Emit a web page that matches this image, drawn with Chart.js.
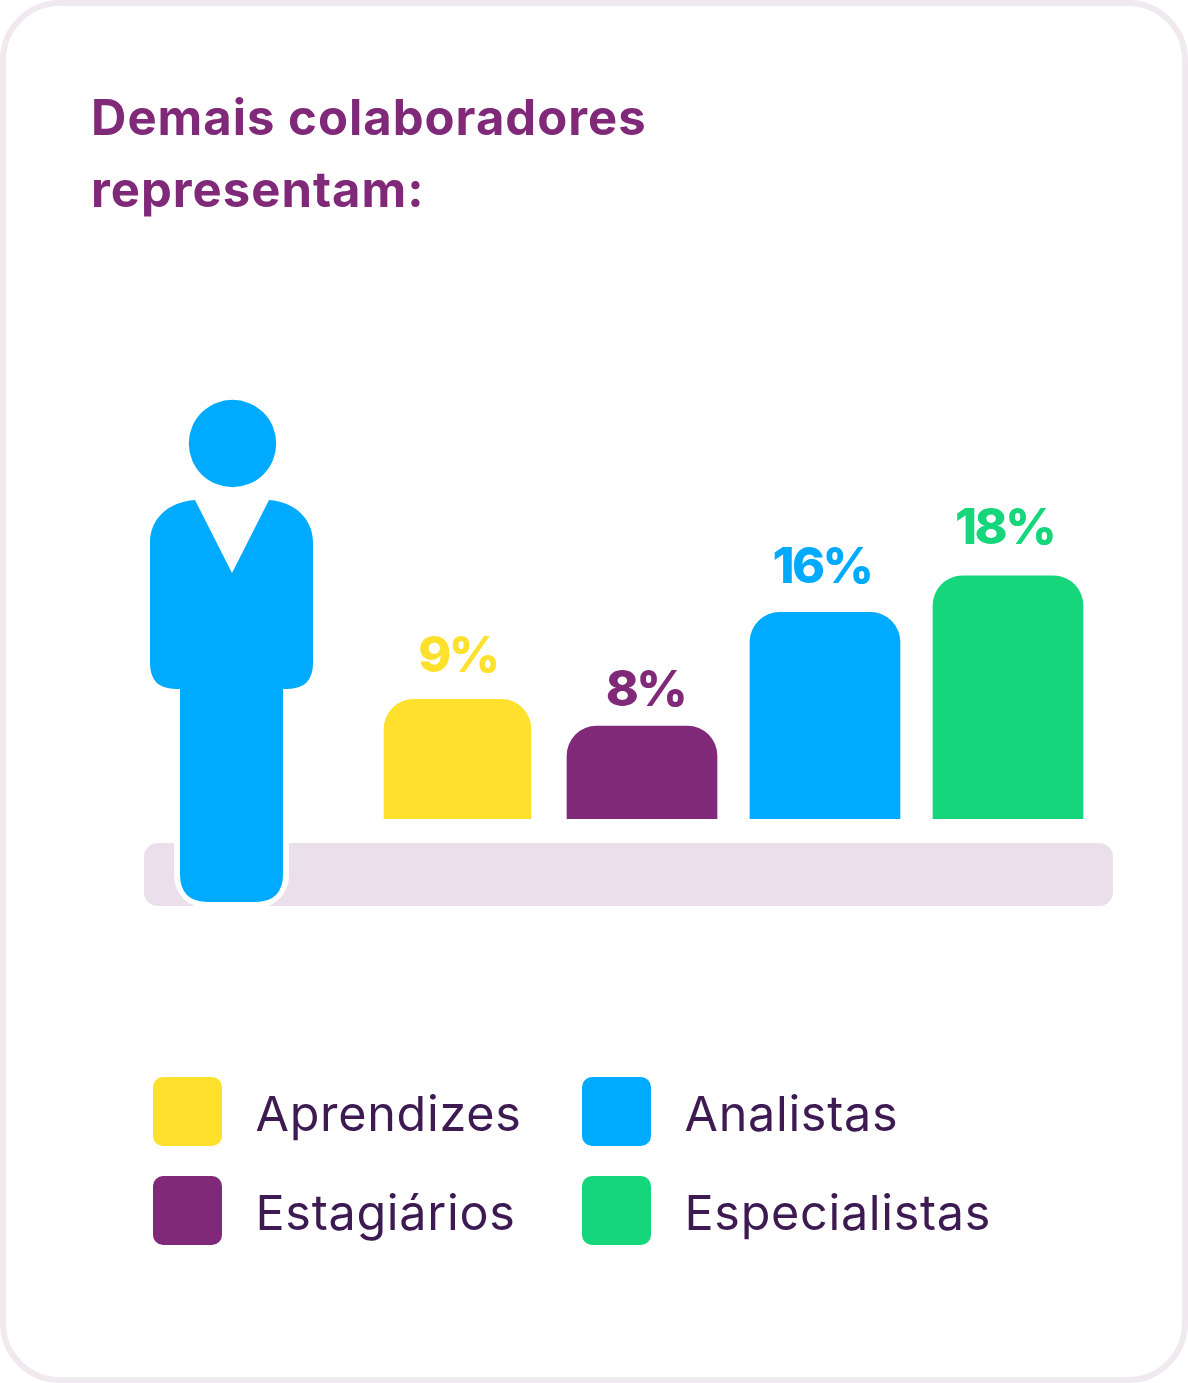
<!DOCTYPE html>
<html lang="pt">
<head>
<meta charset="utf-8">
<title>Demais colaboradores representam</title>
<script src="https://cdn.jsdelivr.net/npm/chart.js@4/dist/chart.umd.min.js"></script>
<style>
  html, body { margin: 0; padding: 0; background: #fff; }
  #page { position: relative; width: 1188px; height: 1383px; overflow: hidden; font-family: Inter, sans-serif; }
  #card { position: absolute; inset: 0; box-sizing: border-box; border: 6px solid #f0e9f0; border-radius: 60px; }
  #chart { position: absolute; left: 0; top: 0; }
  h1 { position: absolute; left: 91px; top: 82px; margin: 0; font-size: 49px; line-height: 72px; font-weight: 700; color: #802979; letter-spacing: 1px; }
  .swatch { position: absolute; width: 69px; height: 69px; border-radius: 10px; }
  .name { position: absolute; font-size: 48.5px; line-height: 60px; color: #3d1a52; letter-spacing: 0.7px; white-space: nowrap; }
</style>
</head>
<body>
<div id="page">
  <div id="card"></div>
  <h1>Demais colaboradores<br>representam:</h1>
  <canvas id="chart" width="1188" height="1383"></canvas>
  <div id="legend"></div>
</div>
<script>
// Chart data
const categories = ['Aprendizes', 'Estagiários', 'Analistas', 'Especialistas'];
const valueLabels = ['9%', '8%', '16%', '18%'];
// bar heights as drawn in the picture (not quite in step with the printed labels)
const barValues = [9.2, 7.15, 15.9, 18.7];
const colours = ['#ffe02c', '#802979', '#00aaff', '#15d67a'];

// Legend, filled in column by column
const legendBox = document.getElementById('legend');
const legendOrder = [[153, 1077, 0], [153, 1176, 1], [582, 1077, 2], [582, 1176, 3]];
legendOrder.forEach(([x, y, i]) => {
  legendBox.insertAdjacentHTML('beforeend',
    `<div class="swatch" style="left:${x}px;top:${y}px;background:${colours[i]}"></div>` +
    `<div class="name" style="left:${x + 102.5}px;top:${y + 7}px">${categories[i]}</div>`);
});

function roundedRect(ctx, x, y, w, h, r) {
  ctx.beginPath();
  ctx.roundRect(x, y, w, h, r);
}

// Floor strip behind the bars
const floorPlugin = {
  id: 'floor',
  beforeDatasetsDraw(chart) {
    const ctx = chart.ctx;
    ctx.save();
    ctx.fillStyle = '#ebdfeb';
    roundedRect(ctx, 144, 843, 969, 63, 14);
    ctx.fill();
    ctx.restore();
  }
};

// The standing figure to the left of the bars
const personPlugin = {
  id: 'person',
  afterDatasetsDraw(chart) {
    const ctx = chart.ctx;
    ctx.save();
    // white halo where the legs cross the floor
    ctx.fillStyle = '#fff';
    ctx.beginPath();
    ctx.roundRect(174, 820, 115, 88, [0, 0, 32, 32]);
    ctx.fill();

    ctx.fillStyle = '#00aaff';
    ctx.beginPath();
    ctx.arc(232.5, 443.5, 43.7, 0, Math.PI * 2);
    ctx.fill();

    // torso with the V neck
    ctx.beginPath();
    ctx.moveTo(195, 500);
    ctx.lineTo(232, 573);
    ctx.lineTo(269, 500);
    ctx.bezierCurveTo(296, 502, 313, 520, 313, 542);
    ctx.lineTo(313, 663);
    ctx.quadraticCurveTo(313, 689, 287, 689);
    ctx.lineTo(283, 689);
    ctx.lineTo(283, 874);
    ctx.quadraticCurveTo(283, 902, 255, 902);
    ctx.lineTo(208, 902);
    ctx.quadraticCurveTo(180, 902, 180, 874);
    ctx.lineTo(180, 689);
    ctx.lineTo(176, 689);
    ctx.quadraticCurveTo(150, 689, 150, 663);
    ctx.lineTo(150, 542);
    ctx.bezierCurveTo(150, 520, 167, 502, 195, 500);
    ctx.closePath();
    ctx.fill();
    ctx.restore();
  }
};

// Percentages above the bars
const labelShiftX = [0.5, 3.5, -3, -3.5];
const labelGap = [27, 20, 29, 32];
const valueLabelPlugin = {
  id: 'valueLabels',
  afterDatasetsUpdate(chart) {
    // first bar is a touch narrower in the picture
    const first = chart.getDatasetMeta(0).data[0];
    first.width = 147;
    first.x -= 1.5;
  },
  afterDatasetsDraw(chart) {
    const ctx = chart.ctx;
    const meta = chart.getDatasetMeta(0);
    ctx.save();
    ctx.font = '800 50px Inter, sans-serif';
    ctx.letterSpacing = '-2.5px';
    ctx.textAlign = 'center';
    ctx.textBaseline = 'alphabetic';
    meta.data.forEach((bar, i) => {
      ctx.fillStyle = colours[i];
      ctx.fillText(valueLabels[i], bar.x + labelShiftX[i], bar.y - labelGap[i]);
    });
    ctx.restore();
  }
};

new Chart(document.getElementById('chart').getContext('2d'), {
  type: 'bar',
  data: {
    labels: categories,
    datasets: [{
      data: barValues,
      backgroundColor: colours,
      borderWidth: 0,
      borderSkipped: 'bottom',
      borderRadius: { topLeft: 30, topRight: 30, bottomLeft: 0, bottomRight: 0 },
      barThickness: 150
    }]
  },
  options: {
    responsive: false,
    animation: false,
    devicePixelRatio: 1,
    layout: { padding: { left: 367.5, right: 88.5, top: 429, bottom: 564 } },
    plugins: {
      legend: { display: false },
      title: { display: false },
      tooltip: { enabled: false }
    },
    scales: {
      x: { display: false },
      y: { display: false, min: 0, max: 30 }
    }
  },
  plugins: [floorPlugin, valueLabelPlugin, personPlugin]
});
</script>
</body>
</html>
